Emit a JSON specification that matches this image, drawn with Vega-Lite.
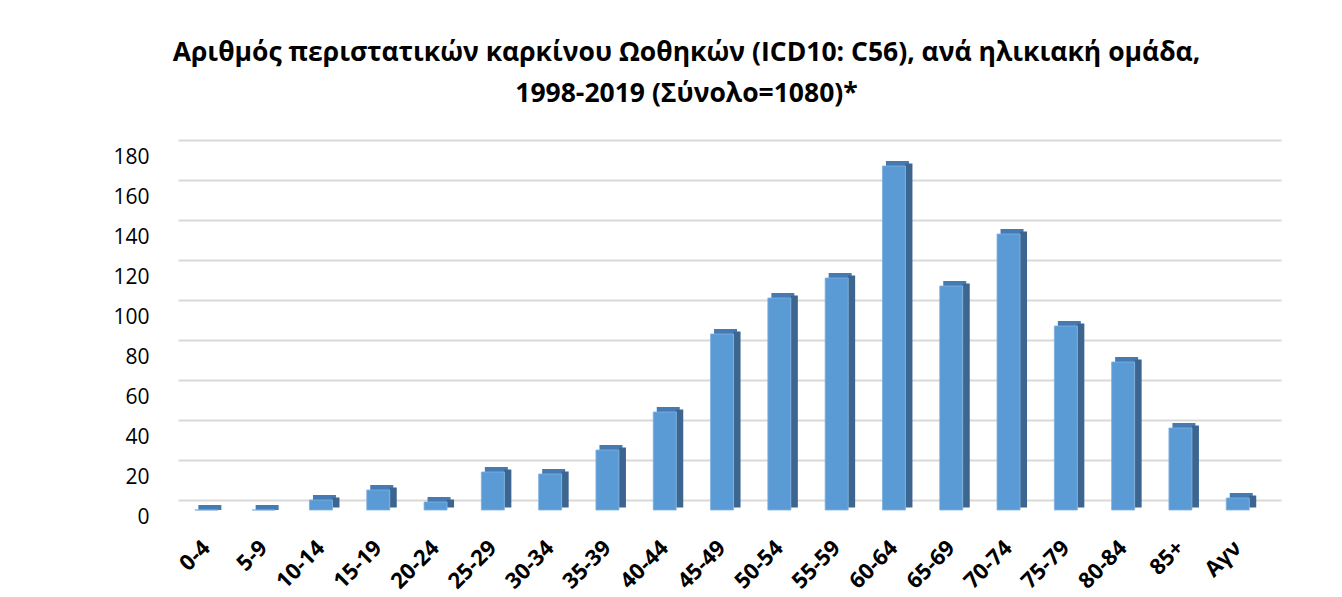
{
  "$schema": "https://vega.github.io/schema/vega-lite/v6.json",
  "autosize": {"type": "none"},
  "width": 1103,
  "height": 360,
  "padding": {"left": 178, "top": 140, "right": 61, "bottom": 97},
  "background": "#FFFFFF",
  "title": {
    "text": ["Αριθμός περιστατικών καρκίνου Ωοθηκών (ICD10: C56), ανά ηλικιακή ομάδα,", "1998-2019 (Σύνολο=1080)*"],
    "anchor": "middle",
    "frame": "group",
    "orient": "top",
    "baseline": "alphabetic",
    "offset": 12,
    "dx": -43,
    "lineHeight": 41,
    "font": "Open Sans",
    "fontSize": 26.5,
    "fontWeight": "bold",
    "color": "#000000"
  },
  "data": {
    "values": [
      {"age": "0-4", "n": 0},
      {"age": "5-9", "n": 0},
      {"age": "10-14", "n": 5},
      {"age": "15-19", "n": 10},
      {"age": "20-24", "n": 4},
      {"age": "25-29", "n": 19},
      {"age": "30-34", "n": 18},
      {"age": "35-39", "n": 30},
      {"age": "40-44", "n": 49},
      {"age": "45-49", "n": 88},
      {"age": "50-54", "n": 106},
      {"age": "55-59", "n": 116},
      {"age": "60-64", "n": 172},
      {"age": "65-69", "n": 112},
      {"age": "70-74", "n": 138},
      {"age": "75-79", "n": 92},
      {"age": "80-84", "n": 74},
      {"age": "85+", "n": 41},
      {"age": "Αγν", "n": 6}
    ]
  },
  "encoding": {
    "x": {
      "field": "age",
      "type": "nominal",
      "sort": null,
      "title": null,
      "scale": {"paddingInner": 0.6, "paddingOuter": 0.425, "align": 0.347},
      "axis": {
        "domain": false,
        "ticks": false,
        "grid": false,
        "labelAngle": -45,
        "labelAlign": "right",
        "labelBaseline": "middle",
        "labelPadding": 44,
        "labelFont": "Open Sans",
        "labelFontSize": 22,
        "labelFontWeight": "bold",
        "labelColor": "#000000"
      }
    },
    "y": {
      "field": "n",
      "type": "quantitative",
      "title": null,
      "scale": {"domain": [0, 180], "nice": false},
      "axis": {
        "values": [0, 20, 40, 60, 80, 100, 120, 140, 160, 180],
        "domain": false,
        "ticks": false,
        "grid": true,
        "gridColor": "#D9D9D9",
        "gridWidth": 2,
        "labelPadding": 29,
        "labelOffset": 17,
        "labelFont": "Open Sans",
        "labelFontSize": 21,
        "labelColor": "#000000"
      }
    }
  },
  "layer": [
    {
      "mark": {"type": "tick", "orient": "horizontal", "size": 23, "thickness": 5, "color": "#467AB2", "opacity": 1, "xOffset": 3.5, "yOffset": 7.5}
    },
    {
      "mark": {"type": "bar", "width": 7, "color": "#3C6690", "xOffset": 15, "yOffset": 7.5, "y2Offset": 7.5}
    },
    {
      "mark": {"type": "bar", "width": 23, "color": "#5B9BD5", "stroke": "#7DB0E0", "strokeWidth": 0.8, "yOffset": 10, "y2Offset": 10}
    }
  ],
  "config": {"view": {"stroke": null}}
}
